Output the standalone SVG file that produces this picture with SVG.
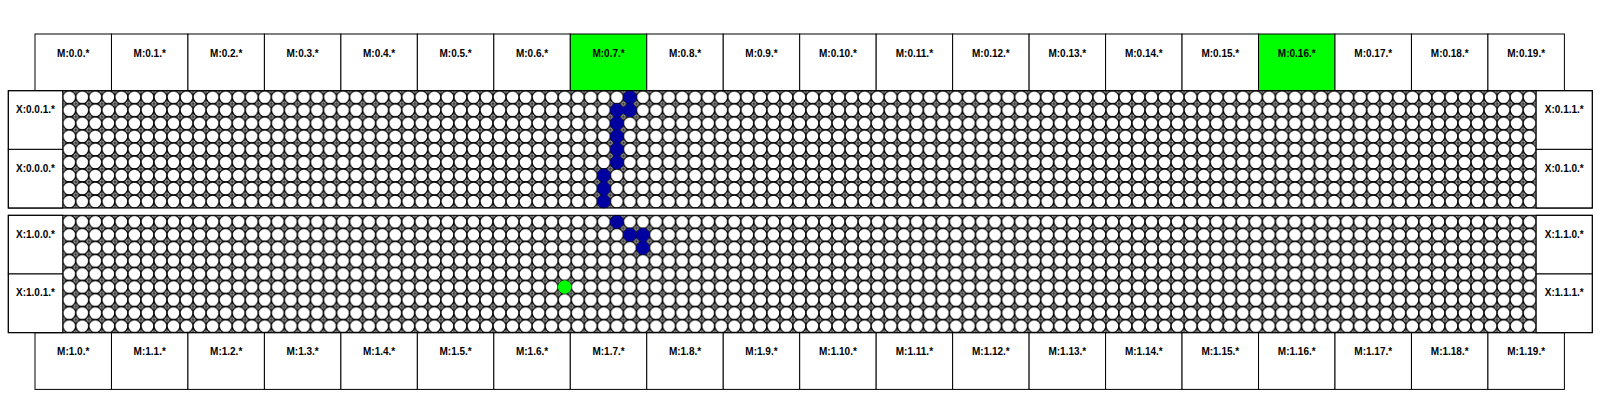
<svg xmlns="http://www.w3.org/2000/svg" xmlns:xlink="http://www.w3.org/1999/xlink" width="1600" height="400" viewBox="0 0 1600 400">
<style>
.box{fill:#fff;stroke:#000;stroke-width:1}
.hl{fill:#00ff00;stroke:#000;stroke-width:1}
.lbl{font-family:"Liberation Sans",Arial,sans-serif;font-weight:bold;font-size:10px;text-anchor:middle;fill:#000}
.blue{fill:#0000a0;stroke:#0000a0;stroke-width:1}
.green{fill:#00ff00;stroke:#00ff00;stroke-width:1}
.frame{fill:none;stroke:#000;stroke-width:1}
.dc{fill:#fff;stroke:#000;stroke-width:1.3}
.cr{stroke:#000;stroke-width:1;fill:none}
</style>
<defs>
<g id="tile">
<rect width="13.04" height="13.04" fill="#fff"/>
<circle class="dc" cx="0" cy="0" r="6.52"/>
<circle class="dc" cx="13.04" cy="0" r="6.52"/>
<circle class="dc" cx="0" cy="13.04" r="6.52"/>
<circle class="dc" cx="13.04" cy="13.04" r="6.52"/>
<path class="cr" d="M6.52 3V10.04M3 6.52H10.04"/>
</g>
<pattern id="dotsTop" patternUnits="userSpaceOnUse" x="56.18" y="84.18" width="13.04" height="13.04"><use href="#tile"/></pattern>
<pattern id="dotsBot" patternUnits="userSpaceOnUse" x="56.18" y="208.78" width="13.04" height="13.04"><use href="#tile"/></pattern>
</defs>
<rect width="1600" height="400" fill="#fff"/>

<g id="top-m">
<g id="m-0-0"><rect class="box" x="35" y="34" width="76.47" height="56.7"/><text class="lbl" x="73.24" y="56.5">M:0.0.*</text></g>
<g id="m-0-1"><rect class="box" x="111.47" y="34" width="76.47" height="56.7"/><text class="lbl" x="149.71" y="56.5">M:0.1.*</text></g>
<g id="m-0-2"><rect class="box" x="187.94" y="34" width="76.47" height="56.7"/><text class="lbl" x="226.18" y="56.5">M:0.2.*</text></g>
<g id="m-0-3"><rect class="box" x="264.41" y="34" width="76.47" height="56.7"/><text class="lbl" x="302.65" y="56.5">M:0.3.*</text></g>
<g id="m-0-4"><rect class="box" x="340.88" y="34" width="76.47" height="56.7"/><text class="lbl" x="379.12" y="56.5">M:0.4.*</text></g>
<g id="m-0-5"><rect class="box" x="417.35" y="34" width="76.47" height="56.7"/><text class="lbl" x="455.59" y="56.5">M:0.5.*</text></g>
<g id="m-0-6"><rect class="box" x="493.82" y="34" width="76.47" height="56.7"/><text class="lbl" x="532.06" y="56.5">M:0.6.*</text></g>
<g id="m-0-7"><rect class="hl" x="570.29" y="34" width="76.47" height="56.7"/><text class="lbl" x="608.53" y="56.5">M:0.7.*</text></g>
<g id="m-0-8"><rect class="box" x="646.76" y="34" width="76.47" height="56.7"/><text class="lbl" x="685" y="56.5">M:0.8.*</text></g>
<g id="m-0-9"><rect class="box" x="723.23" y="34" width="76.47" height="56.7"/><text class="lbl" x="761.47" y="56.5">M:0.9.*</text></g>
<g id="m-0-10"><rect class="box" x="799.7" y="34" width="76.47" height="56.7"/><text class="lbl" x="837.94" y="56.5">M:0.10.*</text></g>
<g id="m-0-11"><rect class="box" x="876.17" y="34" width="76.47" height="56.7"/><text class="lbl" x="914.41" y="56.5">M:0.11.*</text></g>
<g id="m-0-12"><rect class="box" x="952.64" y="34" width="76.47" height="56.7"/><text class="lbl" x="990.88" y="56.5">M:0.12.*</text></g>
<g id="m-0-13"><rect class="box" x="1029.11" y="34" width="76.47" height="56.7"/><text class="lbl" x="1067.35" y="56.5">M:0.13.*</text></g>
<g id="m-0-14"><rect class="box" x="1105.58" y="34" width="76.47" height="56.7"/><text class="lbl" x="1143.82" y="56.5">M:0.14.*</text></g>
<g id="m-0-15"><rect class="box" x="1182.05" y="34" width="76.47" height="56.7"/><text class="lbl" x="1220.29" y="56.5">M:0.15.*</text></g>
<g id="m-0-16"><rect class="hl" x="1258.52" y="34" width="76.47" height="56.7"/><text class="lbl" x="1296.76" y="56.5">M:0.16.*</text></g>
<g id="m-0-17"><rect class="box" x="1334.99" y="34" width="76.47" height="56.7"/><text class="lbl" x="1373.23" y="56.5">M:0.17.*</text></g>
<g id="m-0-18"><rect class="box" x="1411.46" y="34" width="76.47" height="56.7"/><text class="lbl" x="1449.7" y="56.5">M:0.18.*</text></g>
<g id="m-0-19"><rect class="box" x="1487.93" y="34" width="76.47" height="56.7"/><text class="lbl" x="1526.17" y="56.5">M:0.19.*</text></g>
</g>

<g id="bottom-m">
<g id="m-1-0"><rect class="box" x="35" y="332.7" width="76.47" height="56.7"/><text class="lbl" x="73.24" y="354.5">M:1.0.*</text></g>
<g id="m-1-1"><rect class="box" x="111.47" y="332.7" width="76.47" height="56.7"/><text class="lbl" x="149.71" y="354.5">M:1.1.*</text></g>
<g id="m-1-2"><rect class="box" x="187.94" y="332.7" width="76.47" height="56.7"/><text class="lbl" x="226.18" y="354.5">M:1.2.*</text></g>
<g id="m-1-3"><rect class="box" x="264.41" y="332.7" width="76.47" height="56.7"/><text class="lbl" x="302.65" y="354.5">M:1.3.*</text></g>
<g id="m-1-4"><rect class="box" x="340.88" y="332.7" width="76.47" height="56.7"/><text class="lbl" x="379.12" y="354.5">M:1.4.*</text></g>
<g id="m-1-5"><rect class="box" x="417.35" y="332.7" width="76.47" height="56.7"/><text class="lbl" x="455.59" y="354.5">M:1.5.*</text></g>
<g id="m-1-6"><rect class="box" x="493.82" y="332.7" width="76.47" height="56.7"/><text class="lbl" x="532.06" y="354.5">M:1.6.*</text></g>
<g id="m-1-7"><rect class="box" x="570.29" y="332.7" width="76.47" height="56.7"/><text class="lbl" x="608.53" y="354.5">M:1.7.*</text></g>
<g id="m-1-8"><rect class="box" x="646.76" y="332.7" width="76.47" height="56.7"/><text class="lbl" x="685" y="354.5">M:1.8.*</text></g>
<g id="m-1-9"><rect class="box" x="723.23" y="332.7" width="76.47" height="56.7"/><text class="lbl" x="761.47" y="354.5">M:1.9.*</text></g>
<g id="m-1-10"><rect class="box" x="799.7" y="332.7" width="76.47" height="56.7"/><text class="lbl" x="837.94" y="354.5">M:1.10.*</text></g>
<g id="m-1-11"><rect class="box" x="876.17" y="332.7" width="76.47" height="56.7"/><text class="lbl" x="914.41" y="354.5">M:1.11.*</text></g>
<g id="m-1-12"><rect class="box" x="952.64" y="332.7" width="76.47" height="56.7"/><text class="lbl" x="990.88" y="354.5">M:1.12.*</text></g>
<g id="m-1-13"><rect class="box" x="1029.11" y="332.7" width="76.47" height="56.7"/><text class="lbl" x="1067.35" y="354.5">M:1.13.*</text></g>
<g id="m-1-14"><rect class="box" x="1105.58" y="332.7" width="76.47" height="56.7"/><text class="lbl" x="1143.82" y="354.5">M:1.14.*</text></g>
<g id="m-1-15"><rect class="box" x="1182.05" y="332.7" width="76.47" height="56.7"/><text class="lbl" x="1220.29" y="354.5">M:1.15.*</text></g>
<g id="m-1-16"><rect class="box" x="1258.52" y="332.7" width="76.47" height="56.7"/><text class="lbl" x="1296.76" y="354.5">M:1.16.*</text></g>
<g id="m-1-17"><rect class="box" x="1334.99" y="332.7" width="76.47" height="56.7"/><text class="lbl" x="1373.23" y="354.5">M:1.17.*</text></g>
<g id="m-1-18"><rect class="box" x="1411.46" y="332.7" width="76.47" height="56.7"/><text class="lbl" x="1449.7" y="354.5">M:1.18.*</text></g>
<g id="m-1-19"><rect class="box" x="1487.93" y="332.7" width="76.47" height="56.7"/><text class="lbl" x="1526.17" y="354.5">M:1.19.*</text></g>
</g>

<g id="chip-0">
<rect id="grid-0" x="62.7" y="90.7" width="1473.52" height="117.36" fill="url(#dotsTop)"/>
<g id="x-0-0-1"><rect class="box" x="8.3" y="90.7" width="54.4" height="58.68"/><text class="lbl" x="35.5" y="113">X:0.0.1.*</text></g>
<g id="x-0-0-0"><rect class="box" x="8.3" y="149.38" width="54.4" height="58.68"/><text class="lbl" x="35.5" y="171.7">X:0.0.0.*</text></g>
<g id="x-0-1-1"><rect class="box" x="1536.22" y="90.7" width="56.1" height="58.68"/><text class="lbl" x="1564.27" y="113">X:0.1.1.*</text></g>
<g id="x-0-1-0"><rect class="box" x="1536.22" y="149.38" width="56.1" height="58.68"/><text class="lbl" x="1564.27" y="171.7">X:0.1.0.*</text></g>
<g id="path-0">
<circle class="blue" cx="629.94" cy="97.22" r="6.3"/>
<circle class="blue" cx="616.9" cy="110.26" r="6.3"/>
<circle class="blue" cx="629.94" cy="110.26" r="6.3"/>
<circle class="blue" cx="616.9" cy="123.3" r="6.3"/>
<circle class="blue" cx="616.9" cy="136.34" r="6.3"/>
<circle class="blue" cx="616.9" cy="149.38" r="6.3"/>
<circle class="blue" cx="616.9" cy="162.42" r="6.3"/>
<circle class="blue" cx="603.86" cy="175.46" r="6.3"/>
<circle class="blue" cx="603.86" cy="188.5" r="6.3"/>
<circle class="blue" cx="603.86" cy="201.54" r="6.3"/>
</g>
<rect class="frame" x="8.3" y="90.7" width="1584.02" height="117.36"/>
</g>

<g id="chip-1">
<rect id="grid-1" x="62.7" y="215.3" width="1473.52" height="117.36" fill="url(#dotsBot)"/>
<g id="x-1-0-0"><rect class="box" x="8.3" y="215.3" width="54.4" height="58.68"/><text class="lbl" x="35.5" y="237.6">X:1.0.0.*</text></g>
<g id="x-1-0-1"><rect class="box" x="8.3" y="273.98" width="54.4" height="58.68"/><text class="lbl" x="35.5" y="296.3">X:1.0.1.*</text></g>
<g id="x-1-1-0"><rect class="box" x="1536.22" y="215.3" width="56.1" height="58.68"/><text class="lbl" x="1564.27" y="237.6">X:1.1.0.*</text></g>
<g id="x-1-1-1"><rect class="box" x="1536.22" y="273.98" width="56.1" height="58.68"/><text class="lbl" x="1564.27" y="296.3">X:1.1.1.*</text></g>
<g id="path-1">
<circle class="blue" cx="616.9" cy="221.82" r="6.3"/>
<circle class="blue" cx="629.94" cy="234.86" r="6.3"/>
<circle class="blue" cx="642.98" cy="234.86" r="6.3"/>
<circle class="blue" cx="642.98" cy="247.9" r="6.3"/>
<circle class="green" cx="564.74" cy="287.02" r="6.3"/>
</g>
<rect class="frame" x="8.3" y="215.3" width="1584.02" height="117.36"/>
</g>

<g id="connectors"/>
</svg>
